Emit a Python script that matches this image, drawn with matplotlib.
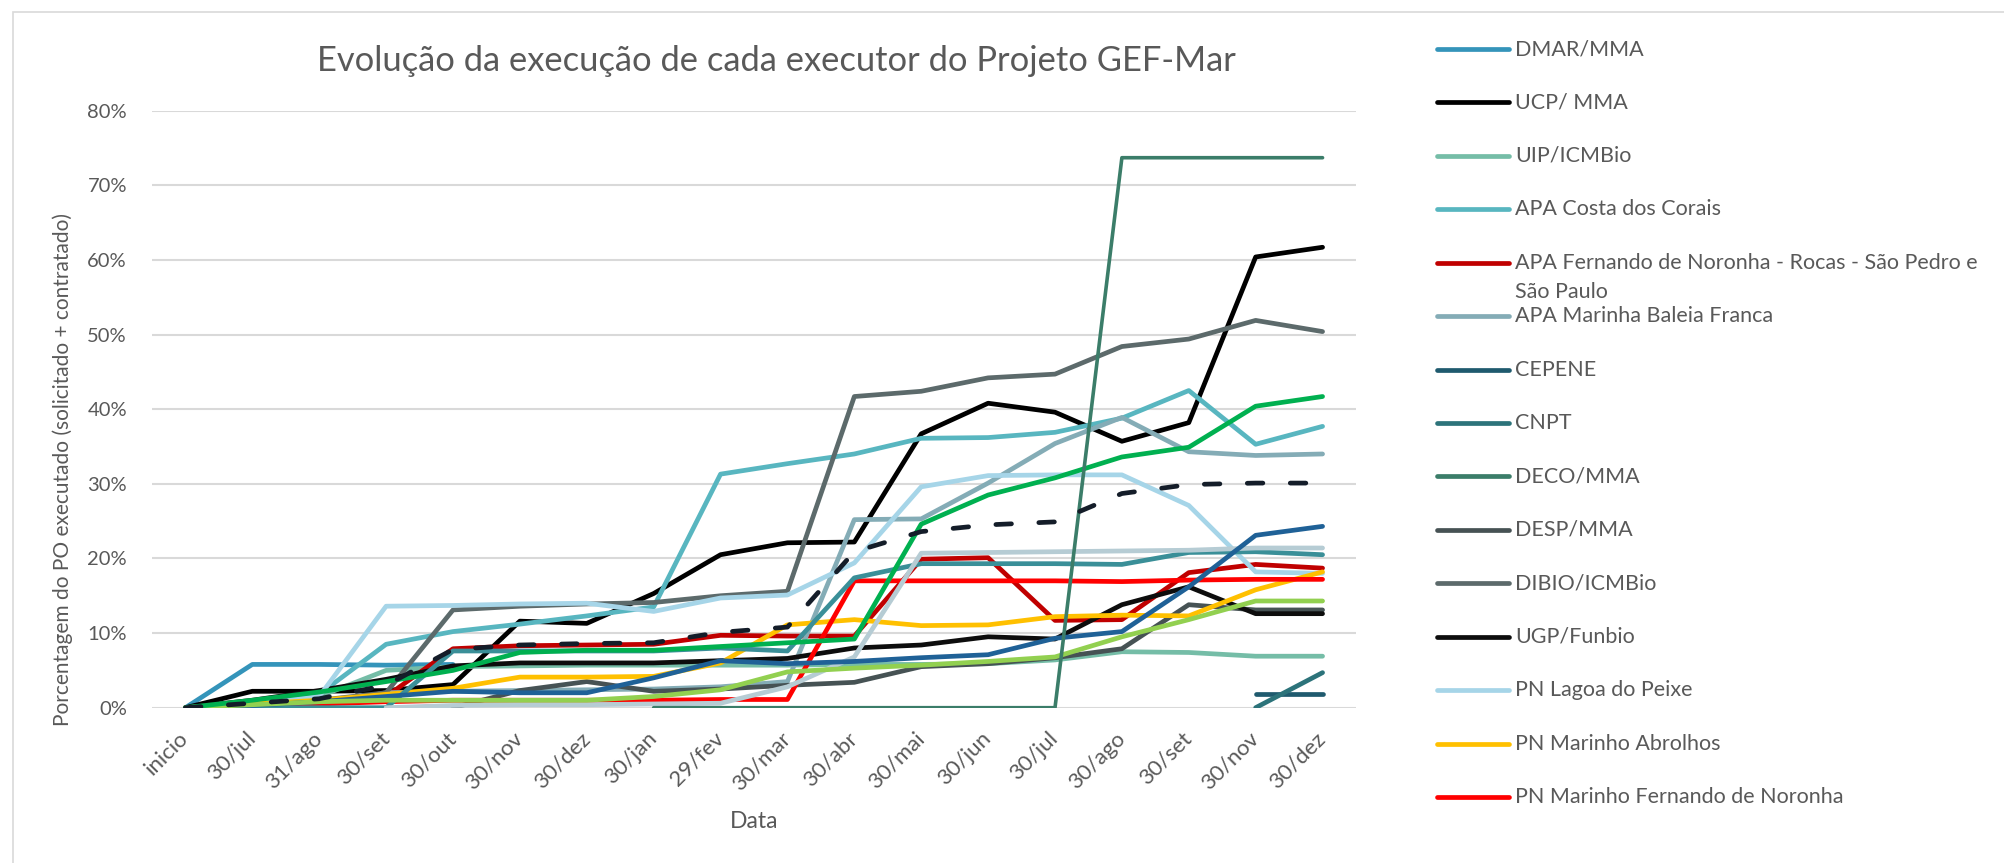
import numpy as np
import matplotlib
matplotlib.use("Agg")
import matplotlib.pyplot as plt
from matplotlib.lines import Line2D
from matplotlib.patches import Rectangle
from matplotlib.ticker import PercentFormatter

nan = np.nan

dates = ['inicio', '30/jul', '31/ago', '30/set', '30/out', '30/nov', '30/dez',
         '30/jan', '29/fev', '30/mar', '30/abr', '30/mai', '30/jun', '30/jul',
         '30/ago', '30/set', '30/nov', '30/dez']

# values in %
dmar = [0, 5.8, 5.8, 5.7, 5.8] + [nan] * 13
ucp = [0, 2.2, 2.2, 2.3, 3.1, 11.6, 11.3, 15.3, 20.5, 22.1, 22.2, 36.7, 40.8, 39.6, 35.7, 38.2, 60.4, 61.7]
uip = [0, 0.5, 1.5, 5.0, 5.5, 5.6, 5.7, 5.7, 5.7, 5.7, 5.8, 5.8, 5.9, 6.4, 7.5, 7.4, 6.9, 6.9]
costa_corais = [0, 0.7, 1.8, 8.5, 10.2, 11.2, 12.3, 13.5, 31.3, 32.7, 34.0, 36.1, 36.2, 36.9, 38.8, 42.5, 35.3, 37.7]
apa_noronha = [0, 0.3, 0.8, 1.5, 7.9, 8.3, 8.4, 8.5, 9.7, 9.6, 9.6, 19.9, 20.1, 11.7, 11.8, 18.1, 19.2, 18.7]
baleia_franca = [0, 0.2, 0.5, 2.0, 2.2, 2.3, 2.4, 2.5, 2.8, 3.5, 25.2, 25.3, 30.1, 35.4, 38.9, 34.3, 33.8, 34.0]
cepene = [nan] * 16 + [1.8, 1.8]
cnpt = [nan] * 16 + [0.0, 4.7]
deco = [nan] * 7 + [0, 0, 0, 0, 0, 0, 0, 73.7, 73.7, 73.7, 73.7]
desp = [nan] * 4 + [0.0, 2.3, 3.5, 2.2, 2.5, 3.0, 3.4, 5.5, 5.9, 6.7, 7.9, 13.8, 13.1, 13.1]
dibio = [0, 0.5, 1.0, 2.0, 13.1, 13.6, 13.9, 14.1, 15.0, 15.6, 41.7, 42.4, 44.2, 44.7, 48.4, 49.4, 51.9, 50.4]
ugp = [0, 1.0, 2.3, 3.8, 5.6, 6.0, 6.0, 6.0, 6.3, 6.6, 8.0, 8.4, 9.5, 9.2, 13.8, 16.2, 12.6, 12.6]
lagoa_peixe = [0, 0.5, 1.5, 13.6, 13.7, 13.9, 14.0, 12.9, 14.7, 15.1, 19.4, 29.6, 31.1, 31.2, 31.2, 27.1, 18.2, 18.0]
abrolhos = [0, 0.5, 1.0, 1.8, 2.6, 4.1, 4.1, 4.2, 6.0, 11.1, 11.8, 11.0, 11.1, 12.2, 12.4, 12.3, 15.8, 18.2]
pn_noronha = [0, 0.2, 0.5, 0.8, 1.0, 1.0, 1.0, 1.0, 1.1, 1.1, 17.0, 17.0, 17.0, 17.0, 16.9, 17.1, 17.2, 17.2]

# series whose legend entries are cut off in the original
teal_series = [0, 0, 0, 0, 7.6, 7.6, 7.6, 7.6, 8.0, 7.6, 17.4, 19.3, 19.3, 19.3, 19.2, 20.8, 20.9, 20.5]
light_gray_series = [nan, nan, nan, 0, 0.3, 0.4, 0.4, 0.5, 0.6, 2.8, 6.8, 20.7, 20.8, 20.9, 21.0, 21.1, 21.4, 21.4]
dark_blue_series = [0, 0.3, 0.8, 1.5, 2.2, 2.0, 2.0, 4.0, 6.3, 5.9, 6.2, 6.7, 7.1, 9.3, 10.2, 16.2, 23.1, 24.3]
light_green_series = [0, 0.4, 0.8, 1.0, 1.0, 1.0, 1.0, 1.5, 2.4, 4.8, 5.3, 5.7, 6.2, 6.8, 9.5, 11.8, 14.3, 14.3]
green_series = [0, 1.0, 2.1, 3.5, 5.0, 7.4, 7.7, 7.7, 8.2, 8.7, 9.2, 24.6, 28.5, 30.8, 33.6, 34.9, 40.4, 41.7]
total_series = [0, 0.6, 1.2, 3.0, 7.8, 8.4, 8.6, 8.7, 10.1, 10.8, 20.9, 23.6, 24.5, 24.9, 28.7, 29.9, 30.1, 30.1]

series = [
    ("DMAR/MMA", dmar, "#3494BA"),
    ("UCP/ MMA", ucp, "#000000"),
    ("UIP/ICMBio", uip, "#75BDA7"),
    ("APA Costa dos Corais", costa_corais, "#58B6C0"),
    ("APA Fernando de Noronha - Rocas - São Pedro e\nSão Paulo", apa_noronha, "#C00000"),
    ("APA Marinha Baleia Franca", baleia_franca, "#84ACB6"),
    ("CEPENE", cepene, "#1F5A6E"),
    ("CNPT", cnpt, "#2C737A"),
    ("DECO/MMA", deco, "#3B7D69"),
    ("DESP/MMA", desp, "#465254"),
    ("DIBIO/ICMBio", dibio, "#5C6A6B"),
    ("UGP/Funbio", ugp, "#0D0D0D"),
    ("PN Lagoa do Peixe", lagoa_peixe, "#A6D5E8"),
    ("PN Marinho Abrolhos", abrolhos, "#FFC000"),
    ("PN Marinho Fernando de Noronha", pn_noronha, "#FF0000"),
]
extras = [
    (teal_series, "#3A8F98"),
    (light_gray_series, "#B6CCD4"),
    (dark_blue_series, "#1F6197"),
    (light_green_series, "#92D050"),
    (green_series, "#00B050"),
]

plt.rcParams['font.family'] = ['Lato', 'DejaVu Sans']
text_color = '#595959'
W, H = 2004, 863

fig = plt.figure(figsize=(W / 100, H / 100), dpi=100)
ax = fig.add_axes([152 / W, (H - 707.7) / H, 1204 / W, 597 / H])

x = np.arange(len(dates))
lw = 3.4
for i, (name, vals, color) in enumerate(series):
    z = 3 + 0.01 * i
    w = lw
    if name == "DECO/MMA":
        z = 4.5
        w = 2.6
    ax.plot(x, np.array(vals) / 100, color=color, lw=w, zorder=z,
            solid_capstyle='round', solid_joinstyle='round')
for j, (vals, color) in enumerate(extras):
    ax.plot(x, np.array(vals) / 100, color=color, lw=lw, zorder=4 + 0.01 * j,
            solid_capstyle='round', solid_joinstyle='round')
ax.plot(x, np.array(total_series) / 100, color='#141D29', lw=lw, zorder=5,
        linestyle=(0, (3.3, 5.8)), dash_capstyle='round')

ax.set_xlim(-0.5, len(dates) - 0.5)
ax.set_ylim(0, 0.8)
ax.set_yticks(np.arange(0, 0.81, 0.1))
ax.yaxis.set_major_formatter(PercentFormatter(1.0, decimals=0))
ax.yaxis.grid(True, color='#D9D9D9', lw=1.5)
ax.set_axisbelow(True)
for s in ax.spines.values():
    s.set_visible(False)
ax.tick_params(length=0, labelcolor=text_color)
ax.tick_params(axis='y', pad=18, labelsize=14.5)
ax.tick_params(axis='x', pad=20, labelsize=16)
ax.set_xticks(x)
ax.set_xticklabels(dates, rotation=45, ha='right', va='center', rotation_mode='anchor')

fig.text(776 / W, 1 - 61 / H, "Evolução da execução de cada executor do Projeto GEF-Mar",
         fontsize=24.8, color=text_color, ha='center', va='center')
fig.text(62.5 / W, 1 - 470 / H, "Porcentagem do PO executado (solicitado + contratado)",
         fontsize=15, color=text_color, rotation=90, ha='center', va='center')
fig.text(754 / W, 1 - 821 / H, "Data", fontsize=16.5, color=text_color, ha='center', va='center')

# legend (drawn by hand so the wrapped entry keeps the even spacing)
for i, (name, vals, color) in enumerate(series):
    yp = 49 + 53.43 * i
    yf = 1 - yp / H
    fig.add_artist(Line2D([1437 / W, 1509 / W], [yf, yf], transform=fig.transFigure,
                          color=color, lw=lw, solid_capstyle='round'))
    for k, part in enumerate(name.split('\n')):
        fig.text(1515 / W, 1 - (yp + 29 * k) / H, part, fontsize=15.5, color=text_color,
                 ha='left', va='center')

fig.add_artist(Rectangle((13 / W, -0.1), 1.5, 1.1 - 12 / H, transform=fig.transFigure,
                         fill=False, edgecolor='#D9D9D9', lw=1.2))

fig.savefig('out.png', dpi=100)
